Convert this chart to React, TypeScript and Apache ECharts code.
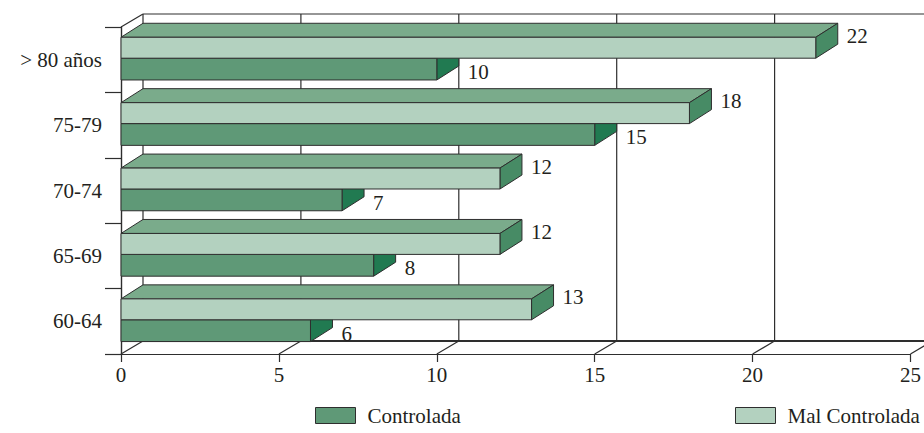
import React, { useEffect, useRef } from "react";
import * as echarts from "echarts";

// Age groups, top to bottom
const categories = ["> 80 años", "75-79", "70-74", "65-69", "60-64"];
// Patients per group
const controlada = [10, 15, 7, 8, 6];
const malControlada = [22, 18, 12, 12, 13];
// Value axis ticks
const xTicks = [0, 5, 10, 15, 20, 25];

const FONT = '"Liberation Serif", "Times New Roman", serif';
const INK = "#231f20";
const EDGE = "#2e2e2e";

// Oblique projection used for the 3D depth
const DX = 22;
const DY_WALL = -13;
const DY_BAR = -14;

const LIGHT = { front: "#b3d1bf", top: "#7aab8b", side: "#478b65" };
const DARK = { front: "#5f9977", top: "#7aab8b", side: "#217a51" };

function bar3d(kind: "light" | "dark") {
  const pal = kind === "light" ? LIGHT : DARK;
  return (params: any, api: any) => {
    const val = api.value(0);
    const idx = api.value(1);
    const [xEnd, yc] = api.coord([val, idx]);
    const [x0] = api.coord([0, idx]);
    const band = api.size([0, 1])[1];
    const top = kind === "light" ? yc - 0.343 * band : yc - 0.023 * band;
    const bottom = kind === "light" ? yc - 0.023 * band : yc + 0.31 * band;
    const stroke = { stroke: EDGE, lineWidth: 1 };
    const mid = (top + bottom) / 2;
    return {
      type: "group",
      children: [
        {
          type: "polygon",
          shape: {
            points: [
              [x0, top],
              [x0 + DX, top + DY_BAR],
              [xEnd + DX, top + DY_BAR],
              [xEnd, top],
            ],
          },
          style: { fill: pal.top, ...stroke },
        },
        {
          type: "polygon",
          shape: {
            points: [
              [xEnd, top],
              [xEnd + DX, top + DY_BAR],
              [xEnd + DX, bottom + DY_BAR],
              [xEnd, bottom],
            ],
          },
          style: { fill: pal.side, ...stroke },
        },
        {
          type: "rect",
          shape: { x: x0, y: top, width: xEnd - x0, height: bottom - top },
          style: { fill: pal.front, ...stroke },
        },
        {
          type: "text",
          style: {
            text: String(val),
            x: xEnd + 31,
            y: kind === "light" ? mid - 12 : mid + 3,
            align: "left",
            verticalAlign: "middle",
            fontSize: 21,
            fontFamily: FONT,
            fill: INK,
          },
        },
      ],
    };
  };
}

// Back wall, floor and left wall of the box
function frame(params: any, api: any) {
  const cs = params.coordSys;
  const yTop = cs.y;
  const yBot = cs.y + cs.height;
  const v = api.value(0);
  const [x] = api.coord([v, 0]);
  const line = (x1: number, y1: number, x2: number, y2: number, w = 1.2) => ({
    type: "line",
    shape: { x1, y1, x2, y2 },
    style: { stroke: EDGE, lineWidth: w },
  });
  const children: any[] = [
    line(x + DX, yTop + DY_WALL, x + DX, yBot + DY_WALL),
    line(x, yBot, x + DX, yBot + DY_WALL),
  ];
  if (params.dataIndex === 0) {
    const [xMax] = api.coord([xTicks[xTicks.length - 1], 0]);
    children.push(line(x + DX, yTop + DY_WALL, xMax + DX, yTop + DY_WALL));
    children.push(line(x + DX, yBot + DY_WALL, xMax + DX, yBot + DY_WALL, 2));
    children.push(line(x, yTop, x + DX, yTop + DY_WALL));
  }
  return { type: "group", children };
}

export default function App() {
  const ref = useRef<HTMLDivElement>(null);

  useEffect(() => {
    if (!ref.current) return;
    const chart = echarts.init(ref.current, undefined, { renderer: "svg" });
    const legendText = {
      fontSize: 21,
      fontFamily: FONT,
      color: INK,
      padding: [0, 0, 0, 7],
    };
    chart.setOption({
      animation: false,
      backgroundColor: "#ffffff",
      grid: { left: 121, right: 13, top: 27, bottom: 79 },
      legend: [
        {
          data: ["Controlada"],
          left: 315,
          top: 405,
          padding: 0,
          icon: "rect",
          itemWidth: 40,
          itemHeight: 16,
          itemStyle: { borderColor: EDGE, borderWidth: 1 },
          textStyle: legendText,
          selectedMode: false,
        },
        {
          data: ["Mal Controlada"],
          left: 735,
          top: 405,
          padding: 0,
          icon: "rect",
          itemWidth: 40,
          itemHeight: 16,
          itemStyle: { borderColor: EDGE, borderWidth: 1 },
          textStyle: legendText,
          selectedMode: false,
        },
      ],
      xAxis: {
        type: "value",
        min: 0,
        max: 25,
        interval: 5,
        axisLine: { show: true, lineStyle: { color: EDGE, width: 1.2 } },
        axisTick: { show: true, length: 8, lineStyle: { color: EDGE, width: 1.2 } },
        axisLabel: { margin: 10, fontSize: 21, fontFamily: FONT, color: INK },
        splitLine: { show: false },
      },
      yAxis: {
        type: "category",
        data: categories,
        inverse: true,
        axisLine: { show: true, lineStyle: { color: EDGE, width: 1.4 } },
        axisTick: { show: true, length: 16, lineStyle: { color: EDGE, width: 1.2 } },
        axisLabel: {
          margin: 19,
          fontSize: 21,
          fontFamily: FONT,
          color: INK,
          padding: [5, 0, 0, 0],
        },
        splitLine: { show: false },
      },
      series: [
        {
          type: "custom",
          name: "frame",
          z: 1,
          silent: true,
          renderItem: frame,
          data: xTicks.map((v) => [v, 0]),
          encode: { x: 0, y: 1 },
        },
        {
          type: "custom",
          name: "Controlada",
          z: 2,
          itemStyle: { color: DARK.front },
          renderItem: bar3d("dark"),
          data: controlada.map((v, i) => [v, i]),
          encode: { x: 0, y: 1 },
        },
        {
          type: "custom",
          name: "Mal Controlada",
          z: 2,
          itemStyle: { color: LIGHT.front },
          renderItem: bar3d("light"),
          data: malControlada.map((v, i) => [v, i]),
          encode: { x: 0, y: 1 },
        },
      ],
    });
    return () => chart.dispose();
  }, []);

  return (
    <div
      ref={ref}
      style={{ position: "fixed", left: 0, top: 0, width: 924, height: 433, background: "#fff" }}
    />
  );
}
